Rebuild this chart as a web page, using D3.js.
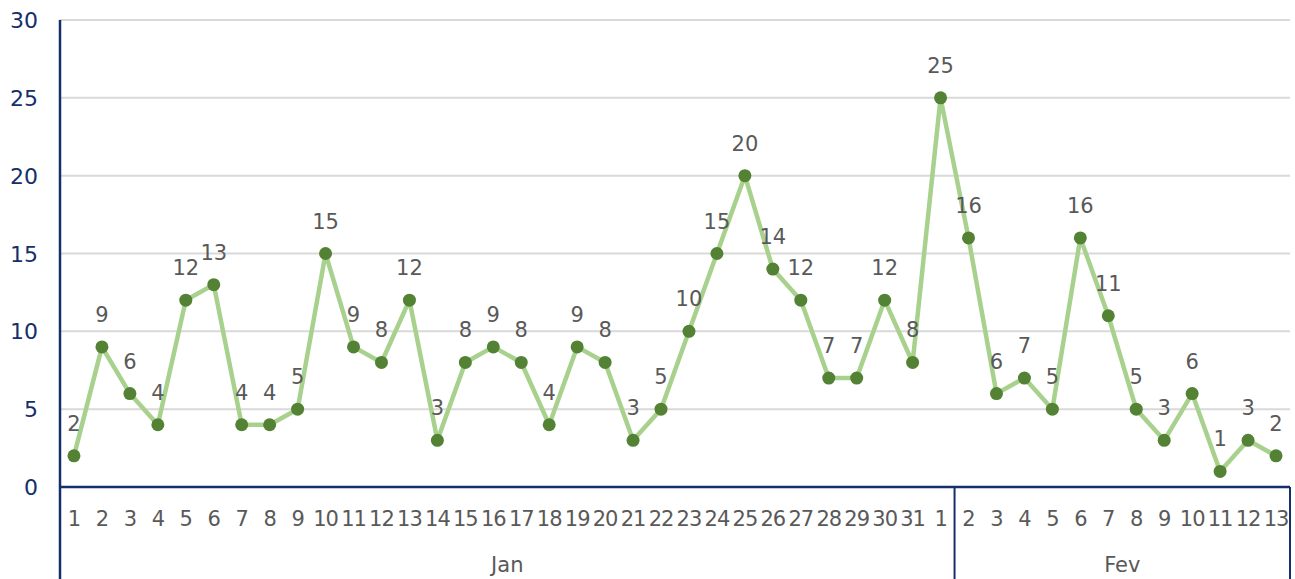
<!DOCTYPE html>
<html>
<head>
<meta charset="utf-8">
<script src="https://cdn.jsdelivr.net/npm/d3@7"></script>
<style>
  body { margin: 0; background: #fff; }
  svg { display: block; font-family: "DejaVu Sans", sans-serif; }
</style>
</head>
<body>
<div class="chart"></div>
<script>
// day labels and values, Jan group holds the first 32 points (31 days + Feb 1)
let days = ["1","2","3","4","5","6","7","8","9","10","11","12","13","14","15","16","17","18","19","20",
            "21","22","23","24","25","26","27","28","29","30","31","1",
            "2","3","4","5","6","7","8","9","10","11","12","13"];
let values = [2,9,6,4,12,13,4,4,5,15,9,8,12,3,8,9,8,4,9,8,3,5,10,15,20,14,12,7,7,12,8,
              25,16,6,7,5,16,11,5,3,6,1,3,2];
let groups = ["Jan", "Fev"];
let groupSizes = [32, 12];
let yTicks = [0, 5, 10, 15, 20, 25, 30];

var width = 1295,
    height = 579;

// plot box (window.top is taken, so keep these in an object)
var m = { left: 60, right: 1290, top: 20, bottom: 487 };

var idx = days.map((d, i) => i);

var x = d3.scaleBand()
    .domain(idx)
    .range([m.left, m.right]);

var y = d3.scaleLinear()
    .domain([0, 30])
    .range([m.bottom, m.top]);

var navy = "#142f6a";

var svg = d3.select(".chart")
    .append("svg")
    .attr("width", width)
    .attr("height", height);

// gridlines
svg.append("g")
  .selectAll("line")
  .data(yTicks.filter(d => d > 0))
  .enter()
  .append("line")
    .attr("x1", m.left)
    .attr("x2", m.right)
    .attr("y1", d => y(d))
    .attr("y2", d => y(d))
    .attr("stroke", "#d9d9d9")
    .attr("stroke-width", 2);

// y labels
svg.append("g")
  .selectAll("text")
  .data(yTicks)
  .enter()
  .append("text")
    .attr("x", 38)
    .attr("y", d => y(d) + 8)
    .attr("text-anchor", "end")
    .attr("fill", navy)
    .style("font-size", "22px")
    .text(d => d);

// day labels
svg.append("g")
  .selectAll("text")
  .data(idx)
  .enter()
  .append("text")
    .attr("x", d => x(d) + x.bandwidth() / 2)
    .attr("y", 526)
    .attr("text-anchor", "middle")
    .attr("fill", "#595959")
    .style("font-size", "21px")
    .style("letter-spacing", "-1px")
    .text(d => days[d]);

// group labels and separators
let start = 0;
let groupInfo = groups.map(function(g, i) {
  let o = { name: g, from: start, to: start + groupSizes[i] - 1 };
  start += groupSizes[i];
  return o;
});

svg.append("g")
  .selectAll("text")
  .data(groupInfo)
  .enter()
  .append("text")
    .attr("x", d => (x(d.from) + x(d.to) + x.bandwidth()) / 2)
    .attr("y", 572)
    .attr("text-anchor", "middle")
    .attr("fill", "#595959")
    .style("font-size", "21px")
    .text(d => d.name);

let seps = groupInfo.map(d => x(d.to) + x.bandwidth());
seps.pop();

svg.append("g")
  .selectAll("line")
  .data(seps.concat([m.right]))
  .enter()
  .append("line")
    .attr("x1", d => d)
    .attr("x2", d => d)
    .attr("y1", m.bottom)
    .attr("y2", height)
    .attr("stroke", navy)
    .attr("stroke-width", 2);

// axis lines
svg.append("line")
    .attr("x1", m.left).attr("x2", m.left)
    .attr("y1", m.top).attr("y2", height)
    .attr("stroke", navy).attr("stroke-width", 2.5);

svg.append("line")
    .attr("x1", m.left).attr("x2", m.right)
    .attr("y1", m.bottom).attr("y2", m.bottom)
    .attr("stroke", navy).attr("stroke-width", 2.5);

// series line
var line = d3.line()
    .x(d => x(d) + x.bandwidth() / 2)
    .y(d => y(values[d]));

svg.append("path")
    .datum(idx)
    .attr("d", line)
    .attr("fill", "none")
    .attr("stroke", "#a9d18e")
    .attr("stroke-width", 4.5)
    .attr("stroke-linejoin", "round");

svg.append("g")
  .selectAll("circle")
  .data(idx)
  .enter()
  .append("circle")
    .attr("cx", d => x(d) + x.bandwidth() / 2)
    .attr("cy", d => y(values[d]))
    .attr("r", 6.5)
    .attr("fill", "#548235");

// data labels
svg.append("g")
  .selectAll("text")
  .data(idx)
  .enter()
  .append("text")
    .attr("x", d => x(d) + x.bandwidth() / 2)
    .attr("y", d => y(values[d]) - 25)
    .attr("text-anchor", "middle")
    .attr("fill", "#595959")
    .style("font-size", "21px")
    .text(d => values[d]);
</script>
</body>
</html>
